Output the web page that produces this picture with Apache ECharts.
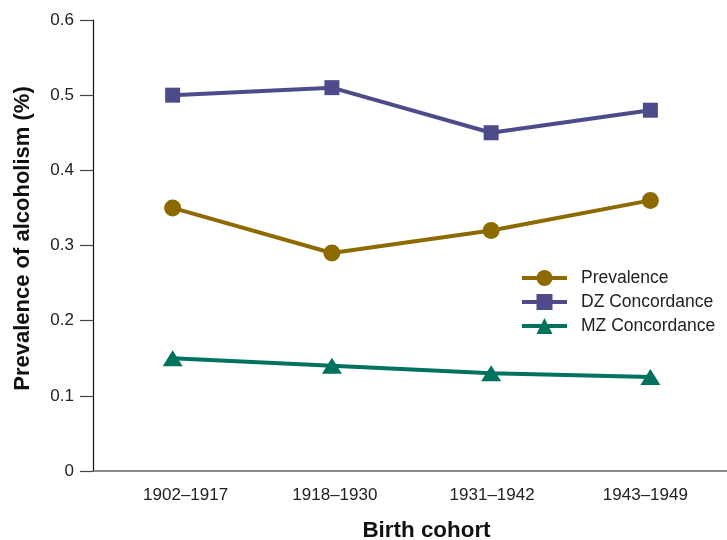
<!DOCTYPE html>
<html>
<head>
<meta charset="utf-8">
<script src="https://cdn.jsdelivr.net/npm/echarts@6/dist/echarts.min.js"></script>
<style>html,body{margin:0;padding:0;background:#fff}#c{width:727px;height:540px}</style>
</head>
<body>
<div id="c"></div>
<script>
const categories = ['1902\u20131917', '1918\u20131930', '1931\u20131942', '1943\u20131949'];
const prevalence = [0.35, 0.29, 0.32, 0.36];
const dzConcordance = [0.50, 0.51, 0.45, 0.48];
const mzConcordance = [0.15, 0.14, 0.13, 0.125];
const yTicks = [0, 0.1, 0.2, 0.3, 0.4, 0.5, 0.6];

const font = '"Liberation Sans", Arial, Helvetica, sans-serif';
const labelStyle = { fontFamily: font, fontSize: 17, color: '#222' };
const chart = echarts.init(document.getElementById('c'));
chart.setOption({
  animation: false,
  grid: { left: 93, right: -3, top: 20, bottom: 69, containLabel: false, outerBoundsMode: 'none' },
  legend: {
    left: 515, top: 264, orient: 'vertical', itemWidth: 45, itemHeight: 20, itemGap: 6,
    lineStyle: { width: 4 },
    textStyle: { fontFamily: font, fontSize: 17.5, color: '#222', padding: [0,0,0,9] },
    data: ['Prevalence', 'DZ Concordance', 'MZ Concordance']
  },
  xAxis: {
    type: 'category', data: categories, boundaryGap: true,
    axisLine: { lineStyle: { color: '#666', width: 1.5 } },
    axisTick: { show: false },
    axisLabel: {
      fontFamily: font, fontSize: 17, color: '#222', margin: 16,
      formatter: (v, i) => '{p' + i + '|' + v + '}',
      rich: {
        p0: Object.assign({ padding: [0, 0, 0, 26] }, labelStyle),
        p1: Object.assign({ padding: [0, 0, 0, 6] }, labelStyle),
        p2: Object.assign({ padding: [0, 0, 0, 2] }, labelStyle),
        p3: Object.assign({ padding: [0, 10, 0, 0] }, labelStyle)
      }
    },
    name: 'Birth cohort', nameLocation: 'middle', nameGap: 49,
    nameTextStyle: { fontFamily: font, fontSize: 22.4, fontWeight: 'bold', color: '#111', padding: [0, 0, 0, 30] }
  },
  yAxis: {
    type: 'value', min: yTicks[0], max: yTicks[yTicks.length - 1], interval: 0.1,
    splitLine: { show: false },
    axisLine: { show: true, lineStyle: { color: '#111', width: 1.2 } },
    axisTick: { show: true, length: 13, lineStyle: { color: '#444', width: 1.2 } },
    axisLabel: { fontFamily: font, fontSize: 17, color: '#222', margin: 19,
      formatter: v => (Math.round(v * 10) / 10).toString() },
    name: 'Prevalence of alcoholism (%)', nameLocation: 'middle', nameGap: 59,
    nameTextStyle: { fontFamily: font, fontSize: 22, fontWeight: 'bold', color: '#111', padding: [0, 0, 0, 14] }
  },
  series: [
    { name: 'Prevalence', type: 'line', data: prevalence, symbol: 'circle', symbolSize: 17,
      lineStyle: { width: 4, color: '#8C6A00' }, itemStyle: { color: '#8C6A00' } },
    { name: 'DZ Concordance', type: 'line', data: dzConcordance, symbol: 'rect', symbolSize: 15,
      lineStyle: { width: 4, color: '#4E4B8A' }, itemStyle: { color: '#4E4B8A' } },
    { name: 'MZ Concordance', type: 'line', data: mzConcordance, symbol: 'triangle', symbolSize: [20, 16],
      lineStyle: { width: 4, color: '#00725E' }, itemStyle: { color: '#00725E' } }
  ]
});
</script>
</body>
</html>
